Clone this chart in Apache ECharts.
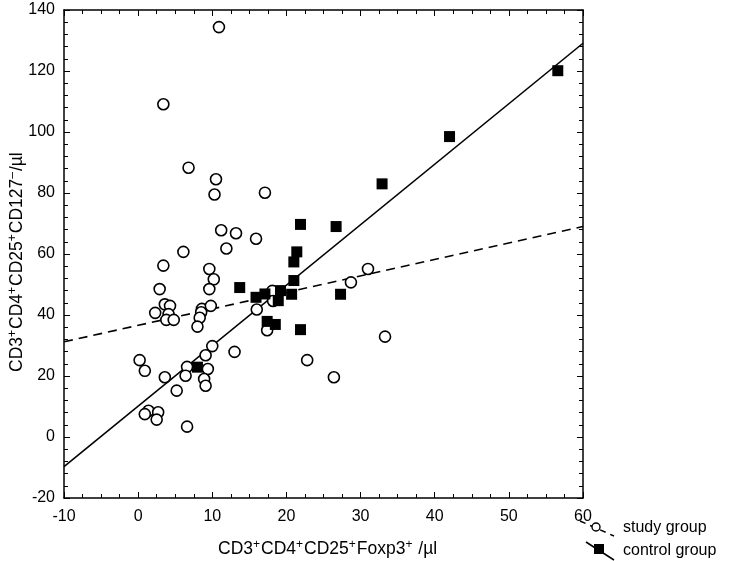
<!DOCTYPE html>
<html>
<head>
<meta charset="utf-8">
<script src="https://cdn.jsdelivr.net/npm/echarts@6/dist/echarts.min.js"></script>
<style>html,body{margin:0;padding:0;background:#fff}#c{width:742px;height:561px}</style>
</head>
<body>
<div id="c"></div>
<script>
// Study group (open circles): [CD3+CD4+CD25+Foxp3+ /µl, CD3+CD4+CD25+CD127- /µl]
var studyX = [10.9, 3.4, 6.8, 10.5, 10.3, 17.1, 11.2, 13.2, 15.9, 6.1, 11.9, 3.4, 9.6, 10.2, 2.9, 9.6, 3.6, 4.3, 2.3, 4.1, 3.8, 4.8, 8.6, 8.5, 8.3, 9.8, 8.0, 16.0, 17.4, 18.1, 18.2, 10.0, 9.1, 0.2, 0.9, 6.6, 9.4, 3.6, 6.4, 8.9, 9.1, 5.2, 1.4, 0.9, 2.7, 2.5, 6.6, 13.0, 22.8, 26.4, 31.0, 28.7, 33.3];
var studyY = [134.4, 109.1, 88.3, 84.5, 79.5, 80.1, 67.8, 66.8, 65.0, 60.7, 61.8, 56.2, 55.1, 51.7, 48.5, 48.5, 43.5, 43.0, 40.7, 40.3, 38.4, 38.4, 42.0, 40.9, 39.1, 43.0, 36.2, 41.8, 35.0, 47.9, 44.6, 29.8, 26.8, 25.2, 21.7, 23.0, 22.3, 19.6, 20.1, 19.0, 16.8, 15.2, 8.6, 7.5, 8.1, 5.7, 3.4, 27.9, 25.2, 19.6, 55.1, 50.7, 32.9];
// Control group (filled squares)
var controlX = [56.6, 42.0, 32.9, 26.7, 21.9, 21.4, 21.0, 21.0, 13.7, 15.9, 17.1, 19.2, 20.7, 18.9, 17.4, 18.5, 21.9, 27.3, 8.0];
var controlY = [120.1, 98.5, 83.0, 69.0, 69.7, 60.7, 57.4, 51.3, 49.0, 45.8, 46.9, 48.0, 46.8, 44.7, 37.9, 36.9, 35.2, 46.8, 22.9];
// Fitted regression lines (end points)
var studyFitX = [-10, 60];
var studyFitY = [31.2, 69.0];
var controlFitX = [-10, 60];
var controlFitY = [-9.7, 129.1];
// Axis ticks
var xTicks = [-10, 0, 10, 20, 30, 40, 50, 60];
var yTicks = [-20, 0, 20, 40, 60, 80, 100, 120, 140];
var seriesNames = ['study group', 'control group'];
// Axis titles as rich text: {b|...} base, {s|...} superscript
var xTitle = '{b|CD3}{s|+}{b|CD4}{s|+}{b|CD25}{s|+}{b|Foxp3}{s|+}{b| /\u00B5l}';
var yTitle = '{b|CD3}{s|+}{b|CD4}{s|+}{b|CD25}{s|+}{b|CD127}{s|\u2013}{b|/\u00B5l}';

function zip(a, b) { return a.map(function (v, i) { return [v, b[i]]; }); }

var FONT = '"Liberation Sans", Arial, "DejaVu Sans", sans-serif';
var chart = echarts.init(document.getElementById('c'), null, { renderer: 'canvas' });

var axLine = { show: true, onZero: false, lineStyle: { color: '#000', width: 1.5 } };
var axTick = { show: true, inside: true, length: 6, lineStyle: { color: '#000', width: 1 } };

function xAx(pos, showLabel) {
  return {
    type: 'value', position: pos, min: xTicks[0], max: xTicks[xTicks.length - 1], interval: 10,
    axisLine: axLine, axisTick: axTick, splitLine: { show: false },
    minorTick: { show: true, splitNumber: 4, length: 4, lineStyle: { color: '#000', width: 1 } },
    axisLabel: { show: showLabel, color: '#000', fontSize: 16, fontFamily: FONT, margin: 11 }
  };
}
function yAx(pos, showLabel) {
  return {
    type: 'value', position: pos, min: yTicks[0], max: yTicks[yTicks.length - 1], interval: 20,
    axisLine: axLine, axisTick: axTick, splitLine: { show: false },
    minorTick: { show: true, splitNumber: 5, length: 4, lineStyle: { color: '#000', width: 1 } },
    axisLabel: { show: showLabel, color: '#000', fontSize: 16, fontFamily: FONT, margin: 9 }
  };
}

var rich = {
  b: { fontSize: 17.5, fontFamily: FONT, color: '#000', lineHeight: 20, verticalAlign: 'bottom' },
  s: { fontSize: 12, fontFamily: FONT, color: '#000', lineHeight: 20, verticalAlign: 'bottom', padding: [0, 1, 7, 0] }
};

var option = {
  backgroundColor: '#fff',
  animation: false,
  grid: { left: 64, right: 159, top: 10, bottom: 63, containLabel: false },
  xAxis: [xAx('bottom', true), xAx('top', false)],
  yAxis: [yAx('left', true), yAx('right', false)],
  series: [
    {
      name: seriesNames[0] + ' fit', type: 'line', data: zip(studyFitX, studyFitY),
      symbol: 'none', z: 2,
      lineStyle: { color: '#000', width: 1.6, type: [9, 6] }
    },
    {
      name: seriesNames[1] + ' fit', type: 'line', data: zip(controlFitX, controlFitY),
      symbol: 'none', z: 2,
      lineStyle: { color: '#000', width: 1.6, type: 'solid' }
    },
    {
      name: seriesNames[0], type: 'scatter', data: zip(studyX, studyY),
      symbol: 'circle', symbolSize: 11, z: 3,
      itemStyle: { color: '#fff', borderColor: '#000', borderWidth: 1.6, opacity: 1 }
    },
    {
      name: seriesNames[1], type: 'scatter', data: zip(controlX, controlY),
      symbol: 'rect', symbolSize: 11, z: 4,
      itemStyle: { color: '#000', borderWidth: 0, opacity: 1 }
    }
  ],
  graphic: [
    { type: 'text', left: 218, top: 539,
      style: { text: xTitle, rich: rich } },
    { type: 'text', x: 6, y: 372, rotation: Math.PI / 2, originX: 0, originY: 0,
      style: { text: yTitle, rich: rich, align: 'left', verticalAlign: 'top' } },
    // legend: study group
    { type: 'line', shape: { x1: 580, y1: 521, x2: 614, y2: 536 }, style: { stroke: '#000', lineWidth: 1.5, lineDash: [6, 5] } },
    { type: 'circle', shape: { cx: 596, cy: 527, r: 4 }, style: { fill: '#fff', stroke: '#000', lineWidth: 1.4 } },
    { type: 'text', left: 623, top: 520, style: { text: seriesNames[0], fontSize: 16, fontFamily: FONT, fill: '#000' } },
    // legend: control group
    { type: 'line', shape: { x1: 586, y1: 542, x2: 614, y2: 560 }, style: { stroke: '#000', lineWidth: 1.5 } },
    { type: 'rect', shape: { x: 594, y: 544, width: 10, height: 10 }, style: { fill: '#000' } },
    { type: 'text', left: 623, top: 543, style: { text: seriesNames[1], fontSize: 16, fontFamily: FONT, fill: '#000' } }
  ]
};
chart.setOption(option);
</script>
</body>
</html>
